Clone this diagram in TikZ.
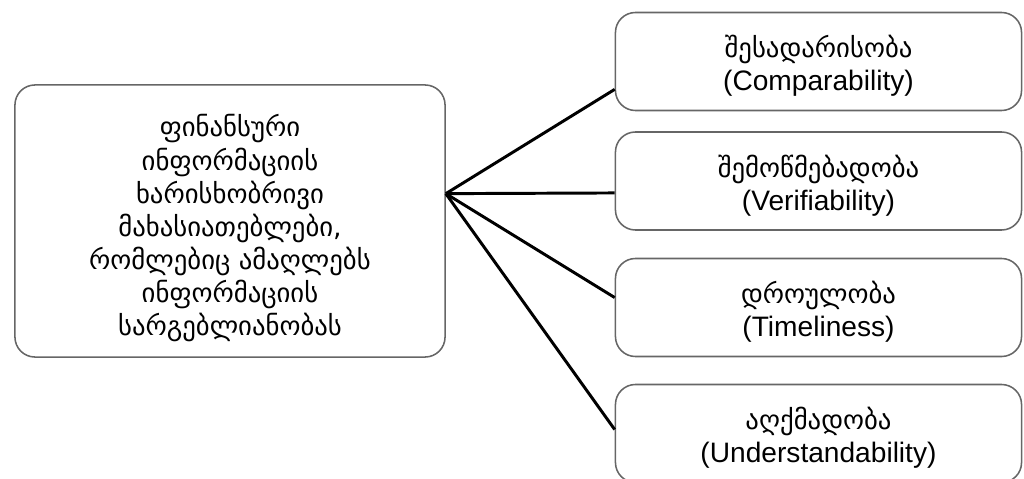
\documentclass[tikz,border=0pt]{standalone}
\usepackage{fontspec}
\setmainfont{Liberation Sans}
\newfontfamily\geo[Scale=0.95]{DejaVu Sans}
\usetikzlibrary{calc}
\tikzset{box/.style={rectangle, draw=black!60, line width=1.1pt, rounded corners=0.5cm, align=center, inner sep=0pt, font=\fontsize{20}{23.5}\selectfont}}
\tikzset{link/.style={draw, line width=2.1pt}}

\begin{document}
\begin{tikzpicture}[x=0.025cm,y=-0.025cm]
    \clip (0,0) rectangle (1024,479);
    \node[box, minimum width=10.75cm, minimum height=6.8cm] (qual) at (230,221)
      {\rule{0pt}{26pt}\geo ფინანსური\\\geo ინფორმაციის\\\geo ხარისხობრივი\\\geo მახასიათებლები,\\\geo რომლებიც ამაღლებს\\\geo ინფორმაციის\\\geo სარგებლიანობას};
    \foreach \y/\lab/\ka/\en in {
      61.5/comp/შესადარისობა/Comparability,
      181/verif/შემოწმებადობა/Verifiability,
      307.5/time/დროულობა/Timeliness,
      433.5/under/აღქმადობა/Understandability%
    } {
      \node[box, minimum width=10.15cm, minimum height=2.45cm] (\lab) at (818.5,\y) {\rule{0pt}{22pt}{\geo \ka}\\(\en)};
    }
    \coordinate (fan) at ($(qual.north east)!0.4!(qual.south east)$);
    \foreach \lab/\f in {comp/0.78, verif/0.62, time/0.4, under/0.46} {
      \draw[link] (fan) -- ($(\lab.north west)!\f!(\lab.south west)$);
    }
  \end{tikzpicture}
\end{document}
